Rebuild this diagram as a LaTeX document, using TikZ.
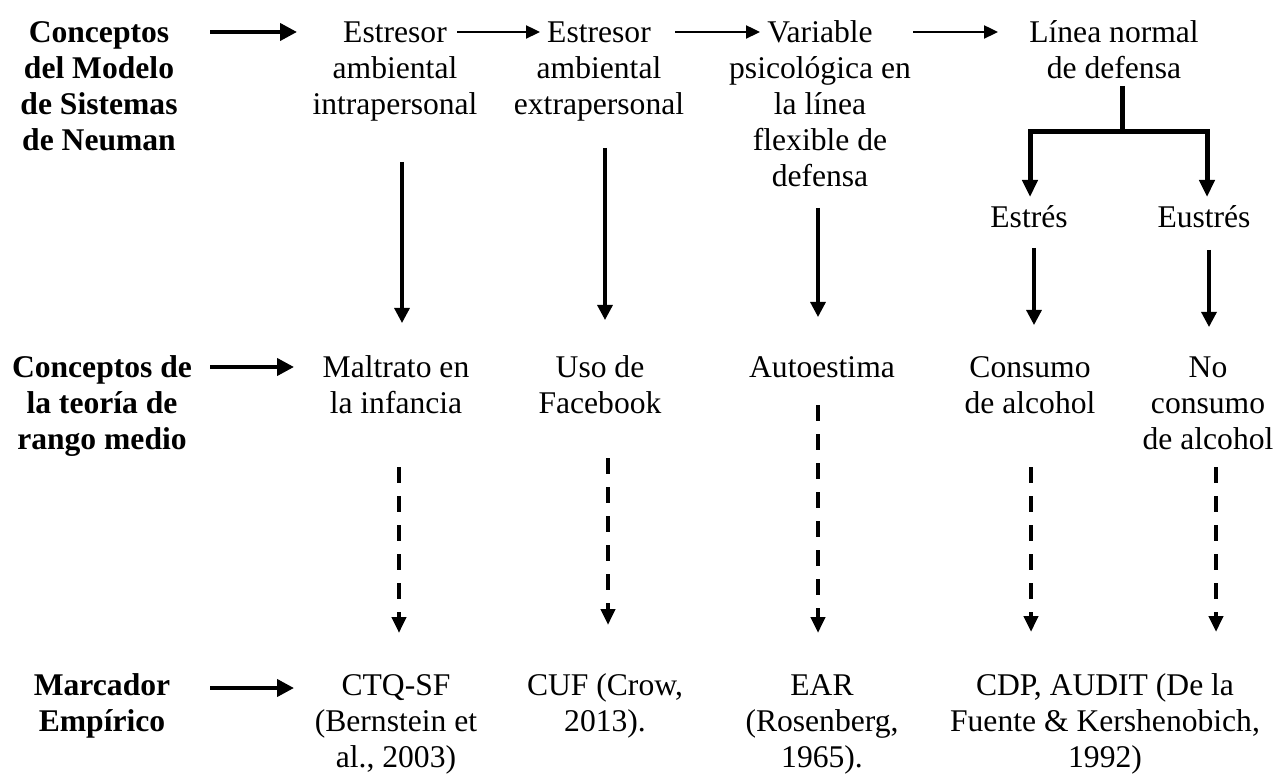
\documentclass[tikz,border=0pt]{standalone}
\usepackage{fontspec}
\setmainfont{Liberation Serif}
\usetikzlibrary{arrows.meta,calc}
\newcommand{\mystrut}{\rule{0pt}{12pt}}
\begin{document}
\begin{tikzpicture}[x=0.5pt,y=-0.5pt,
  txt/.style={inner sep=0pt, align=center, anchor=north,
    font=\fontsize{15.8}{18}\selectfont},
  lbl/.style={txt, font=\fontsize{15.8}{18}\selectfont\bfseries},
  thickarr/.style={line width=2pt, -{Triangle[length=8.5pt,width=8.5pt]}},
  thinarr/.style={line width=1.15pt, -{Triangle[length=7pt,width=6.5pt]}},
  vertarr/.style={line width=1.6pt, -{Triangle[length=7.5pt,width=7.5pt]}},
  treearr/.style={line width=2.5pt, line join=miter,
    {Triangle[length=8.5pt,width=7.5pt]}-{Triangle[length=8.5pt,width=7.5pt]}},
  treeline/.style={line width=2.5pt},
  dasharr/.style={line width=2pt, dash pattern=on 8pt off 6.5pt,
    -{Triangle[length=8pt,width=7pt]}}]
\useasboundingbox (0,0) rectangle (1277,774);

% Row 1
\node[lbl] (L1) at (99,18) {\mystrut Conceptos\\del Modelo\\de Sistemas\\de Neuman};
\node[txt] (A1) at (395,18) {\mystrut Estresor\\ambiental\\intrapersonal};
\node[txt] (A2) at (599,18) {\mystrut Estresor\\ambiental\\extrapersonal};
\node[txt] (A3) at (820,18) {\mystrut Variable\\psicológica en\\la línea\\flexible de\\defensa};
\node[txt] (A4) at (1114,18) {\mystrut Línea normal\\de defensa};
\node[txt] (E1) at (1029,203) {\mystrut Estrés};
\node[txt] (E2) at (1204,203) {\mystrut Eustrés};

% Row 2
\node[lbl] (L2) at (102,353) {\mystrut Conceptos de\\la teoría de\\rango medio};
\node[txt] (B1) at (396,353) {\mystrut Maltrato en\\la infancia};
\node[txt] (B2) at (600,353) {\mystrut Uso de\\Facebook};
\node[txt] (B3) at (822,353) {\mystrut Autoestima};
\node[txt] (B4) at (1030,353) {\mystrut Consumo\\de alcohol};
\node[txt] (B5) at (1208,353) {\mystrut No\\consumo\\de alcohol};

% Row 3
\node[lbl] (L3) at (102,671) {\mystrut Marcador\\Empírico};
\node[txt] (C1) at (396,671) {\mystrut CTQ-SF\\(Bernstein et\\al., 2003)};
\node[txt] (C2) at (605,671) {\mystrut CUF (Crow,\\2013).};
\node[txt] (C3) at (822,671) {\mystrut EAR\\(Rosenberg,\\1965).};
\node[txt] (C4) at (1105,671) {\mystrut CDP, AUDIT (De la\\Fuente \& Kershenobich,\\1992)};

% horizontal arrows
\draw[thickarr] ($(L1.north)+(111,14)$) -- ($(A1.north)+(-98,14)$);
\draw[thinarr] ($(A1.north)+(62,14)$) -- ($(A2.north)+(-59,14)$);
\draw[thinarr] ($(A2.north)+(76,14)$) -- ($(A3.north)+(-60,14)$);
\draw[thinarr] ($(A3.north)+(93,14)$) -- ($(A4.north)+(-116,14)$);
\draw[thickarr] ($(L2.north)+(108,14)$) -- ($(B1.north)+(-102,14)$);
\draw[thickarr] ($(L3.north)+(108,17)$) -- ($(C1.north)+(-102,17)$);

% tree
\draw[treeline] ($(A4.north)+(8,68)$) -- ($(A4.north)+(8,114)$) coordinate (J);
\draw[treearr] ($(E1.north)+(1,-6)$) |- (J) -| ($(E2.north)+(3,-6)$);

% vertical solid arrows
\draw[vertarr] ($(A1.north)+(7,144)$) -- ($(B1.north)+(6,-30)$);
\draw[vertarr] ($(A2.north)+(6,130)$) -- ($(B2.north)+(5,-33)$);
\draw[vertarr] ($(A3.north)+(-2,190)$) -- ($(B3.north)+(-4,-36)$);
\draw[vertarr] ($(E1.north)+(5,45)$) -- ($(B4.north)+(4,-28)$);
\draw[vertarr] ($(E2.north)+(5,47)$) -- ($(B5.north)+(1,-26)$);

% dashed arrows
\draw[dasharr] ($(B1.north)+(3,114)$) -- ($(C1.north)+(3,-38)$);
\draw[dasharr] ($(B2.north)+(8,105)$) -- ($(C2.north)+(3,-46)$);
\draw[dasharr] ($(B3.north)+(-4,52)$) -- ($(C3.north)+(-4,-38)$);
\draw[dasharr] ($(B4.north)+(1,114)$) -- ($(C4.north)+(-74,-39)$);
\draw[dasharr] ($(B5.north)+(8,114)$) -- ($(C4.north)+(111,-39)$);
\end{tikzpicture}
\end{document}
